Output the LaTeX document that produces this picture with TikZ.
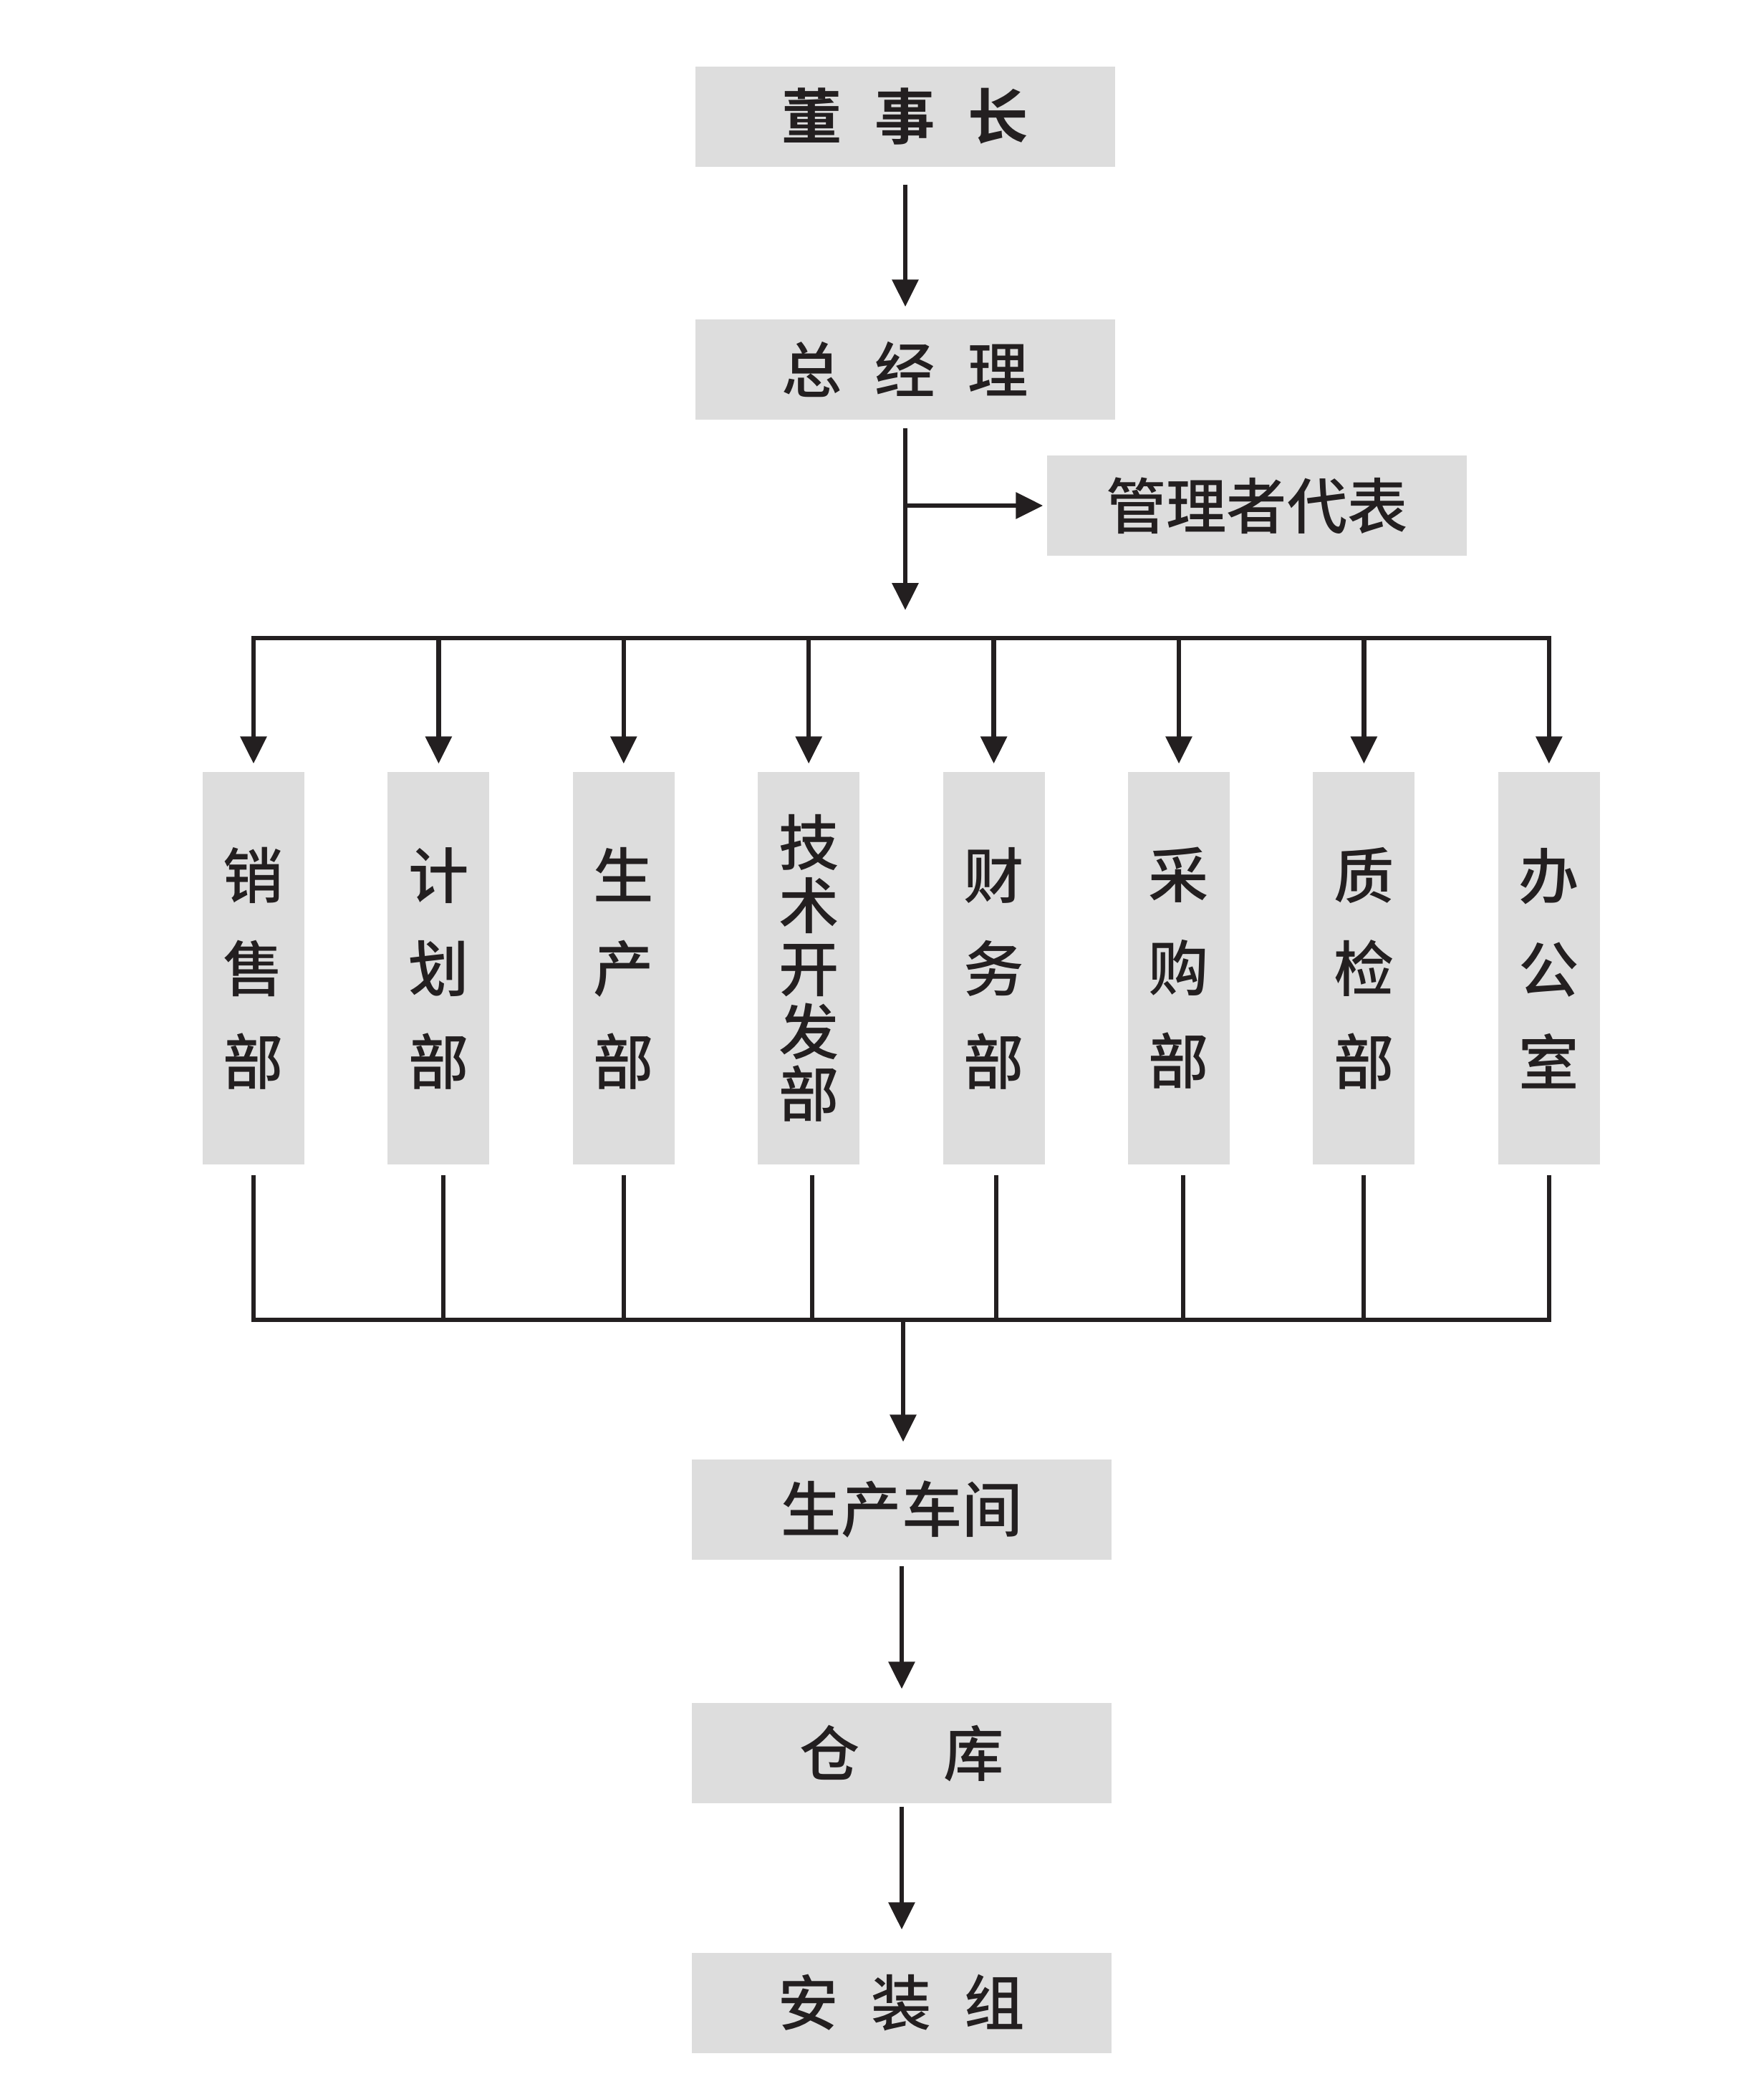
\documentclass[tikz,border=0pt]{standalone}
\usepackage{fontspec}
\usepackage{tikz}
\usetikzlibrary{arrows.meta}
\newfontfamily\cjk[UprightFont=* Medium, BoldFont=* Bold]{Noto Sans CJK SC}
\definecolor{boxgray}{RGB}{221,221,221}
\definecolor{ink}{RGB}{35,31,32}

\tikzset{
  box/.style = {fill = boxgray, inner sep = 0pt, minimum width = 5.86cm, minimum height = 1.40cm,
                font = \cjk\fontsize{24pt}{24pt}\selectfont, text = ink},
  deptbox/.style = {box, minimum width = 1.42cm, minimum height = 5.48cm, align = center},
  arr/.style = {draw = ink, line width = 1.8pt, -{Triangle[width = 0.36cm, length = 0.38cm]}},
  ln/.style = {draw = ink, line width = 1.8pt}
}

\begin{document}
\begin{tikzpicture}
\useasboundingbox (0,0) rectangle (24.62,-29.24);
\node [box, font = \cjk\bfseries\fontsize{24pt}{24pt}\selectfont] (chair) at (12.64,-1.63) {董\hspace{13pt}事\hspace{13pt}长};
\node [box] (gm) at (12.64,-5.16) {总\hspace{13pt}经\hspace{13pt}理};
\node [box] (rep) at (17.55,-7.06) {管理者代表};
\node [box] (shop) at (12.59,-21.08) {生产车间};
\node [box] (store) at (12.59,-24.48) {仓\hspace{33pt}库};
\node [box] (install) at (12.59,-27.97) {安\hspace{13pt}装\hspace{13pt}组};

\coordinate (bustop) at (12.64,-8.91);
\coordinate (busbot) at (12.61,-18.43);
\coordinate (repjoin) at (12.64,-7.06);
\draw [arr, shorten <= 0.24cm, shorten >= 0.17cm] (chair) -- (gm);
\draw [arr, shorten <= 0.11cm, shorten >= 0.39cm] (gm) -- (bustop);
\draw [arr, shorten >= 0.05cm] (repjoin) -- (rep);
\draw [ln, line cap = rect] (3.54,-8.91) -- (21.63,-8.91);
\draw [ln, line cap = rect] (3.54,-18.43) -- (21.63,-18.43);

\foreach \i/\bx/\name/\txt/\pitch in {0/3.54/sales/{销\\售\\部}/37pt, 1/6.19/plan/{计\\划\\部}/37pt,
  2/8.71/prod/{生\\产\\部}/37pt, 3/11.34/tech/{技\\术\\开\\发\\部}/25pt, 4/13.91/fin/{财\\务\\部}/37pt,
  5/16.52/buy/{采\\购\\部}/37pt, 6/19.04/qc/{质\\检\\部}/37pt, 7/21.63/office/{办\\公\\室}/37pt}
{
  \node [deptbox, font = \cjk\fontsize{24pt}{\pitch}\selectfont] (\name) at (3.54 + \i*2.584,-13.52) {\txt};
  \coordinate (\name top) at (3.54 + \i*2.584,-8.91);
  \coordinate (\name bot) at (\bx,-18.43);
  \draw [arr, shorten >= 0.11cm] (\name top) -- (\name);
  \draw [ln] (\name bot |- \name.south) ++(0,-0.14) -- (\name bot);
}

\draw [arr, shorten >= 0.24cm] (busbot) -- (busbot |- shop.north);
\draw [arr, shorten <= 0.08cm, shorten >= 0.19cm] (shop) -- (store);
\draw [arr, shorten <= 0.04cm, shorten >= 0.32cm] (store) -- (install);
\end{tikzpicture}
\end{document}
